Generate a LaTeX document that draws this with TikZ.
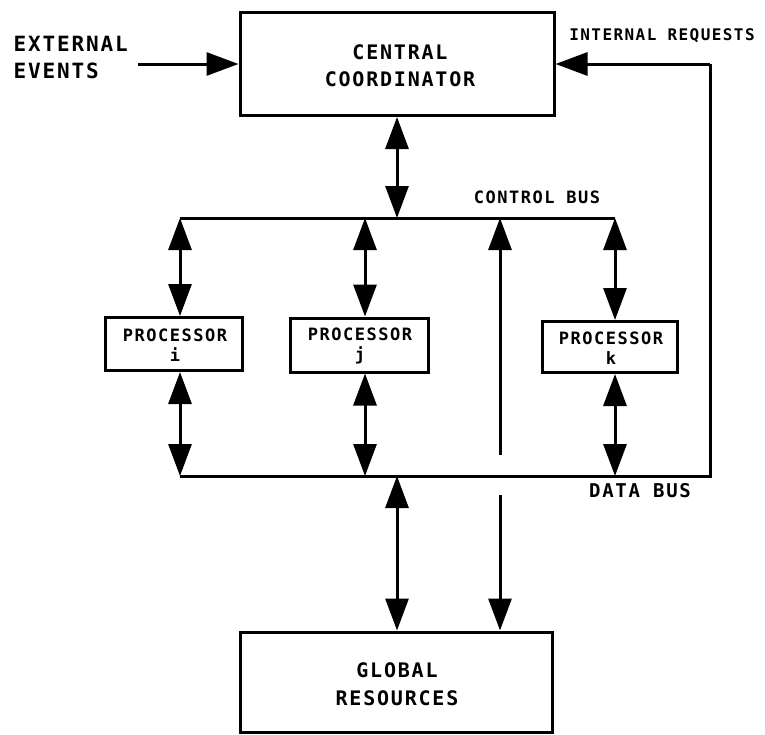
\documentclass[tikz,border=0pt]{standalone}
\usepackage{fontspec}
\usetikzlibrary{arrows.meta}
\newfontfamily\plotfont[LetterSpace=9]{DejaVu Sans Mono Bold}
\begin{document}
\begin{tikzpicture}[x=1pt,y=-1pt,
  line width=3pt,
  box/.style={draw,rectangle,inner sep=0pt,line width=3pt},
  lbl/.style={font=\plotfont, inner sep=0pt, align=center},
  tip/.style={-{Triangle[length=32pt,width=23pt]}},
  bitip/.style={{Triangle[length=32pt,width=23pt]}-{Triangle[length=32pt,width=23pt]}},
  bus/.style={line width=3pt}]
\useasboundingbox (0,0) rectangle (765,734);

% main blocks
\node[box,minimum width=314pt,minimum height=103pt] (cc) at (397,64) {};
\node[lbl,font=\plotfont\fontsize{20}{27}\selectfont] (cct) at (400,66) {CENTRAL\\COORDINATOR};
\node[box,minimum width=312pt,minimum height=100pt] (gr) at (396,682) {};
\node[lbl,font=\plotfont\fontsize{20}{28}\selectfont] (grt) at (397,684) {GLOBAL\\RESOURCES};

% processors
\node[box,minimum width=137pt,minimum height=53pt] (pi) at (174,344) {};
\node[lbl,font=\plotfont\fontsize{17}{20}\selectfont] (pit) at (175,345) {PROCESSOR\\i};
\node[box,minimum width=138pt,minimum height=54pt] (pj) at (359,345) {};
\node[lbl,font=\plotfont\fontsize{17}{20}\selectfont] (pjt) at (360,346) {PROCESSOR\\j};
\node[box,minimum width=135pt,minimum height=51pt] (pk) at (610,347) {};
\node[lbl,font=\plotfont\fontsize{17}{20}\selectfont] (pkt) at (611,348) {PROCESSOR\\k};

% bus anchor points
\coordinate (cbL) at (180,218);
\coordinate (cbR) at (615,218);
\coordinate (cbC) at (397,218);
\coordinate (cbJ) at (365,218);
\coordinate (cbM) at (500,218);
\coordinate (dbL) at (180,476);
\coordinate (dbJ) at (365,476);
\coordinate (dbK) at (615,476);
\coordinate (dbG) at (397,476);
\coordinate (dbR) at (710,476);
\coordinate (irR) at (710,64);
\coordinate (mTop) at (500,455);
\coordinate (mBot) at (500,495);
\coordinate (ext) at (138,64);

% buses
\draw[bus] (cbL) -- (cbR);
\draw[bus] (dbL) -- (dbR) -- (irR);

% connectors
\draw[tip] (ext) -- (cc.west);
\draw[tip] (irR) -- (cc.east);
\draw[bitip] (cc.south -| cbC) -- (cbC);
\draw[bitip] (cbL) -- (cbL |- pi.north);
\draw[bitip] (cbL |- pi.south) -- (dbL);
\draw[bitip] (cbJ) -- (cbJ |- pj.north);
\draw[bitip] (cbJ |- pj.south) -- (dbJ);
\draw[bitip] (cbR) -- (cbR |- pk.north);
\draw[bitip] (cbR |- pk.south) -- (dbK);
\draw[tip] (mTop) -- (cbM);
\draw[tip] (mBot) -- (mBot |- gr.north);
\draw[bitip] (dbG) -- (dbG |- gr.north);

% labels
\node[lbl,font=\plotfont\fontsize{21}{27}\selectfont,align=left,anchor=west] (extl) at (12,57) {EXTERNAL\\EVENTS};
\node[lbl,font=\plotfont\fontsize{16}{20}\selectfont] (irl) at (662,36) {INTERNAL REQUESTS};
\node[lbl,font=\plotfont\fontsize{17}{20}\selectfont] (cbl) at (537,197) {CONTROL BUS};
\node[lbl,font=\plotfont\fontsize{19}{20}\selectfont] (dbl) at (640,491) {DATA BUS};
\end{tikzpicture}
\end{document}
